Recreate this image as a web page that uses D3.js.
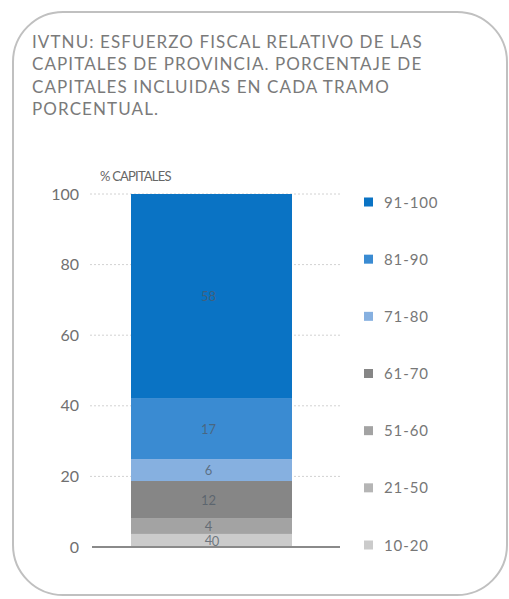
<!DOCTYPE html>
<html>
<head>
    <meta charset="utf-8">
    <script src="https://d3js.org/d3.v7.min.js"></script>
    <style>
        body { margin: 0; background: #fff; }
        text { font-family: Lato, "Open Sans", sans-serif; }
    </style>
</head>
<body>
<div id="chart"></div>
<script>
    // data
    var categories = ["10-20", "21-50", "51-60", "61-70", "71-80", "81-90", "91-100"];
    var values = [3.7, 0, 4.5, 10.5, 6.2, 17.3, 57.8];
    var valueLabels = ["4", "0", "4", "12", "6", "17", "58"];
    var colors = ["#cbcbcb", "#b5b5b5", "#a3a3a3", "#868686", "#86b0e0", "#3a8bd2", "#0a73c4"];
    var yTicks = [0, 20, 40, 60, 80, 100];
    var titleLines = [
        "IVTNU: ESFUERZO FISCAL RELATIVO DE LAS",
        "CAPITALES DE PROVINCIA. PORCENTAJE DE",
        "CAPITALES INCLUIDAS EN CADA TRAMO",
        "PORCENTUAL."
    ];

    var width = 509, height = 599;

    var svg = d3.select("#chart").append("svg")
        .attr("width", width)
        .attr("height", height);

    // rounded frame
    svg.append("rect")
        .attr("x", 13).attr("y", 12)
        .attr("width", 494).attr("height", 583)
        .attr("rx", 50).attr("ry", 50)
        .attr("fill", "none")
        .attr("stroke", "#c0c0c0")
        .attr("stroke-width", 2);

    // title
    svg.append("g").selectAll("text")
        .data(titleLines)
        .enter().append("text")
        .attr("x", 32)
        .attr("y", function (d, i) { return 48 + i * 22.3; })
        .attr("font-size", 17)
        .attr("letter-spacing", 1.1)
        .attr("fill", "#7a7a7a")
        .text(function (d) { return d; });

    var y = d3.scaleLinear().domain([0, 100]).range([547, 194]);
    var x = d3.scaleBand().domain(["capitales"]).range([131, 292]).padding(0);

    // dotted grid lines
    svg.append("g").selectAll("line")
        .data(yTicks.slice(1))
        .enter().append("line")
        .attr("x1", 90).attr("x2", 342)
        .attr("y1", function (d) { return y(d); })
        .attr("y2", function (d) { return y(d); })
        .attr("stroke", "#d2d2d2")
        .attr("stroke-dasharray", "2,2");

    // y axis labels
    var yAxis = d3.axisLeft(y).tickValues(yTicks).tickSize(0).tickPadding(0);
    var gy = svg.append("g")
        .attr("transform", "translate(79,0)")
        .call(yAxis);
    gy.select(".domain").remove();
    gy.selectAll("text")
        .attr("font-size", 16)
        .attr("fill", "#707070")
        .style("font-family", "Lato, sans-serif");

    // stacked segments
    var stack = [];
    var acc = 0;
    values.forEach(function (v, i) {
        stack.push({ cat: categories[i], y0: acc, y1: acc + v, label: valueLabels[i], color: colors[i] });
        acc += v;
    });

    svg.append("g").selectAll("rect")
        .data(stack)
        .enter().append("rect")
        .attr("x", x("capitales"))
        .attr("width", x.bandwidth())
        .attr("y", function (d) { return y(d.y1); })
        .attr("height", function (d) { return y(d.y0) - y(d.y1); })
        .attr("fill", function (d) { return d.color; });

    svg.append("g").selectAll("text")
        .data(stack)
        .enter().append("text")
        .attr("x", function (d) { return x("capitales") + x.bandwidth() / 2 + (d.y1 === d.y0 ? 4 : -3); })
        .attr("y", function (d) { return (d.y1 === d.y0 ? y(0) - 1 : y((d.y0 + d.y1) / 2) + 5); })
        .attr("text-anchor", "middle")
        .attr("font-size", 13)
        .attr("fill", "#4f5a66")
        .attr("fill-opacity", 0.75)
        .text(function (d) { return d.label; });

    // baseline
    svg.append("line")
        .attr("x1", 92).attr("x2", 340)
        .attr("y1", y(0)).attr("y2", y(0))
        .attr("stroke", "#8a8a8a")
        .attr("stroke-width", 2);

    svg.append("text")
        .attr("x", 100).attr("y", 181)
        .attr("font-size", 13)
        .attr("fill", "#666")
        .attr("letter-spacing", -0.8)
        .text("% CAPITALES");

    // legend, top to bottom from highest tramo
    var legendY = d3.scalePoint().domain(categories.slice().reverse()).range([202, 545]);
    var legend = svg.append("g").selectAll("g")
        .data(stack)
        .enter().append("g")
        .attr("transform", function (d) { return "translate(364," + legendY(d.cat) + ")"; });
    legend.append("rect")
        .attr("x", 0).attr("y", -4.5)
        .attr("width", 9).attr("height", 9)
        .attr("fill", function (d) { return d.color; });
    legend.append("text")
        .attr("x", 20).attr("y", 5.5)
        .attr("font-size", 15)
        .attr("letter-spacing", 0.9)
        .attr("fill", "#777")
        .text(function (d) { return d.cat; });
</script>
</body>
</html>
